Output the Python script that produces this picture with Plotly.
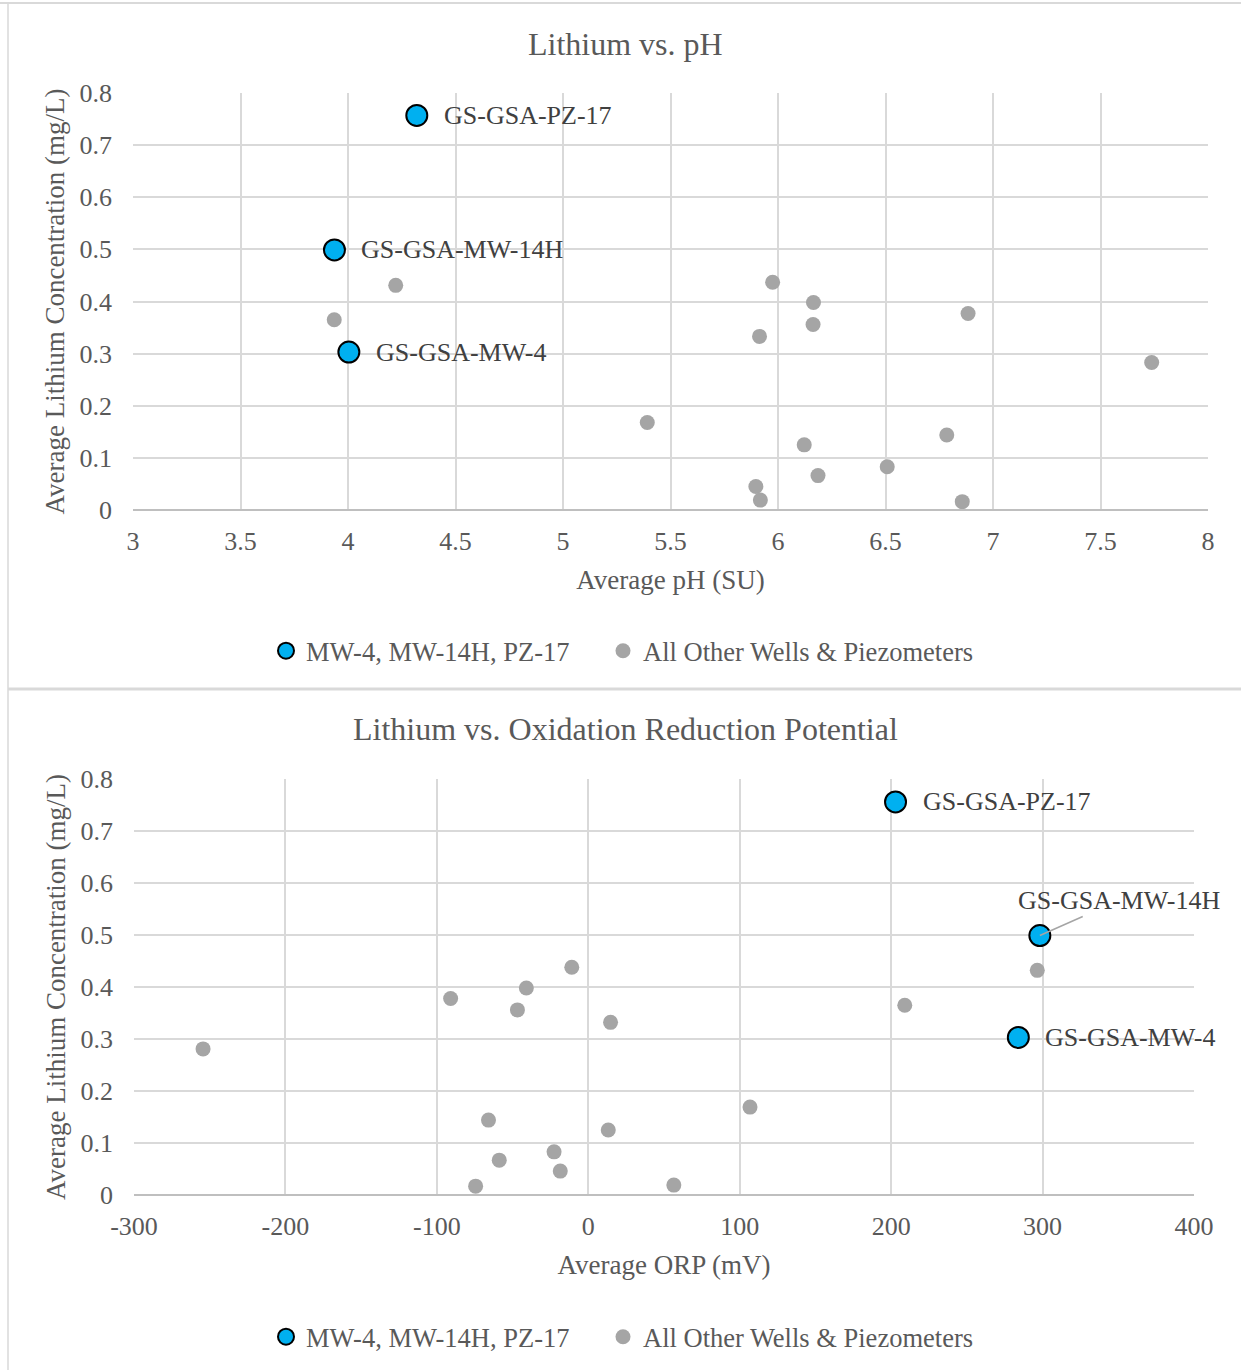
import plotly.graph_objects as go

# ---------------- data ----------------
key_wells = ["GS-GSA-PZ-17", "GS-GSA-MW-14H", "GS-GSA-MW-4"]
key_ph = [4.32, 3.937, 4.004]
key_li = [0.757, 0.499, 0.303]
key_orp = [202.9, 298.2, 284.0]
key_li_orp = [0.756, 0.499, 0.303]

other_ph = [4.222, 3.936, 5.975, 6.165, 6.884, 6.163, 5.914, 7.738, 5.392,
            6.122, 6.785, 6.508, 6.186, 5.897, 5.918, 6.857]
other_li_ph = [0.431, 0.365, 0.437, 0.398, 0.377, 0.356, 0.333, 0.283, 0.168,
               0.125, 0.144, 0.083, 0.066, 0.045, 0.019, 0.016]

other_orp = [296.5, 209.0, -254.4, -90.9, -40.9, -10.9, -46.8, 14.7, 106.8,
             -65.9, 13.2, -22.6, -58.8, -18.5, -74.4, 56.5]
other_li_orp = [0.432, 0.365, 0.281, 0.378, 0.398, 0.438, 0.356, 0.332, 0.169,
                0.144, 0.125, 0.083, 0.067, 0.046, 0.017, 0.019]

series_names = ["MW-4, MW-14H, PZ-17", "All Other Wells & Piezometers"]
titles = ["Lithium vs. pH", "Lithium vs. Oxidation Reduction Potential"]
x_titles = ["Average pH (SU)", "Average ORP (mV)"]
y_title = "Average Lithium Concentration (mg/L)"
ph_ticks = [3, 3.5, 4, 4.5, 5, 5.5, 6, 6.5, 7, 7.5, 8]
ph_ticktext = ["3", "3.5", "4", "4.5", "5", "5.5", "6", "6.5", "7", "7.5", "8"]
orp_ticks = [-300, -200, -100, 0, 100, 200, 300, 400]
orp_ticktext = ["-300", "-200", "-100", "0", "100", "200", "300", "400"]
li_ticks = [0, 0.1, 0.2, 0.3, 0.4, 0.5, 0.6, 0.7, 0.8]
li_ticktext = ["0", "0.1", "0.2", "0.3", "0.4", "0.5", "0.6", "0.7", "0.8"]

# ---------------- styling ----------------
W, H = 1241, 1370
FONT = "Liberation Serif"
BLUE = "#00B0F0"
GRAY = "#A5A5A5"
GRID = "#D9D9D9"
TXT = "#595959"
LBL = "#404040"


def px_x(p):
    return p / W


def px_y(p):
    return 1 - p / H


fig = go.Figure()

# panel 1
fig.add_trace(go.Scatter(x=key_ph, y=key_li, mode="markers", name=series_names[0],
                         marker=dict(color=BLUE, size=21, line=dict(color="black", width=2)),
                         xaxis="x", yaxis="y", legend="legend", zorder=2))
fig.add_trace(go.Scatter(x=other_ph, y=other_li_ph, mode="markers", name=series_names[1],
                         marker=dict(color=GRAY, size=15),
                         xaxis="x", yaxis="y", legend="legend2", zorder=1))
# panel 2
fig.add_trace(go.Scatter(x=key_orp, y=key_li_orp, mode="markers", name=series_names[0],
                         marker=dict(color=BLUE, size=21, line=dict(color="black", width=2)),
                         xaxis="x2", yaxis="y2", legend="legend3", zorder=2))
fig.add_trace(go.Scatter(x=other_orp, y=other_li_orp, mode="markers", name=series_names[1],
                         marker=dict(color=GRAY, size=15),
                         xaxis="x2", yaxis="y2", legend="legend4", zorder=1))

tickfont = dict(family=FONT, size=26, color=TXT)
titlefont = dict(family=FONT, size=27, color=TXT)

axis_common = dict(showgrid=True, gridcolor=GRID, gridwidth=1.5, zeroline=False,
                   tickfont=tickfont, ticks="", showline=False, fixedrange=True,
                   tickmode="array")

legend_common = dict(orientation="h", xanchor="left", yanchor="middle",
                     font=dict(family=FONT, size=26.5, color=TXT), bgcolor="rgba(0,0,0,0)",
                     itemsizing="trace")

fig.update_layout(
    width=W, height=H,
    margin=dict(l=0, r=0, t=0, b=0, autoexpand=False),
    paper_bgcolor="white", plot_bgcolor="white",
    font=dict(family=FONT, color=TXT),
    xaxis=dict(domain=[px_x(133), px_x(1208)], range=[3, 8], tickvals=ph_ticks,
               ticktext=ph_ticktext, anchor="y",
               title=dict(text=x_titles[0], font=titlefont, standoff=15),
               ticklabelstandoff=13, **axis_common),
    yaxis=dict(domain=[px_y(510), px_y(93)], range=[0, 0.8], tickvals=li_ticks,
               ticktext=li_ticktext, anchor="x",
               title=dict(text=y_title, font=titlefont, standoff=7),
               ticklabelstandoff=20, **axis_common),
    xaxis2=dict(domain=[px_x(134), px_x(1194)], range=[-300, 400], tickvals=orp_ticks,
                ticktext=orp_ticktext, anchor="y2",
                title=dict(text=x_titles[1], font=titlefont, standoff=15),
                ticklabelstandoff=13, **axis_common),
    yaxis2=dict(domain=[px_y(1195), px_y(779)], range=[0, 0.8], tickvals=li_ticks,
                ticktext=li_ticktext, anchor="x2",
                title=dict(text=y_title, font=titlefont, standoff=7),
                ticklabelstandoff=20, **axis_common),
    legend=dict(x=px_x(266), y=px_y(651), **legend_common),
    legend2=dict(x=px_x(603), y=px_y(651), **legend_common),
    legend3=dict(x=px_x(266), y=px_y(1337), **legend_common),
    legend4=dict(x=px_x(603), y=px_y(1337), **legend_common),
    showlegend=True,
)

annotations = []
# chart titles
annotations.append(dict(text=titles[0], x=px_x(625), y=px_y(44), xref="paper", yref="paper",
                        showarrow=False, font=dict(family=FONT, size=32, color=TXT),
                        xanchor="center", yanchor="middle"))
annotations.append(dict(text=titles[1], x=px_x(625), y=px_y(729), xref="paper", yref="paper",
                        showarrow=False, font=dict(family=FONT, size=32, color=TXT),
                        xanchor="center", yanchor="middle"))
labfont = dict(family=FONT, size=26, color=LBL)
# panel 1 labels: all to the right
for name, xv, yv in zip(key_wells, key_ph, key_li):
    annotations.append(dict(text=name, x=xv, y=yv, xref="x", yref="y", showarrow=False,
                            xanchor="left", yanchor="middle", xshift=25, font=labfont))
# panel 2 labels
for name, xv, yv in zip(key_wells, key_orp, key_li_orp):
    if name == "GS-GSA-MW-14H":
        annotations.append(dict(text=name, x=xv, y=yv, xref="x2", yref="y2", showarrow=True,
                                arrowhead=0, arrowwidth=1.5, arrowcolor=GRAY, ax=79, ay=-35,
                                standoff=0, font=labfont, xanchor="center", yanchor="middle"))
    else:
        annotations.append(dict(text=name, x=xv, y=yv, xref="x2", yref="y2", showarrow=False,
                                xanchor="left", yanchor="middle", xshift=25, font=labfont))
fig.update_layout(annotations=annotations)

# frame / separators
shapes = [
    dict(type="line", xref="paper", yref="paper", x0=0, x1=1, y0=px_y(3), y1=px_y(3),
         line=dict(color=GRID, width=2)),
    dict(type="line", xref="paper", yref="paper", x0=px_x(8), x1=px_x(8), y0=0, y1=px_y(3),
         line=dict(color=GRID, width=1.5)),
    dict(type="line", xref="paper", yref="paper", x0=px_x(8), x1=1, y0=px_y(689), y1=px_y(689),
         line=dict(color=GRID, width=3)),
    # x axis baselines
    dict(type="line", xref="x domain", yref="paper", x0=0, x1=1, y0=px_y(510), y1=px_y(510),
         line=dict(color="#BFBFBF", width=2)),
    dict(type="line", xref="x2 domain", yref="paper", x0=0, x1=1, y0=px_y(1195), y1=px_y(1195),
         line=dict(color="#BFBFBF", width=2)),
]
fig.update_layout(shapes=shapes)

fig.write_html("out.html", config={"displayModeBar": False},
               post_script="document.body.style.margin='0px';document.body.style.overflow='hidden';")
